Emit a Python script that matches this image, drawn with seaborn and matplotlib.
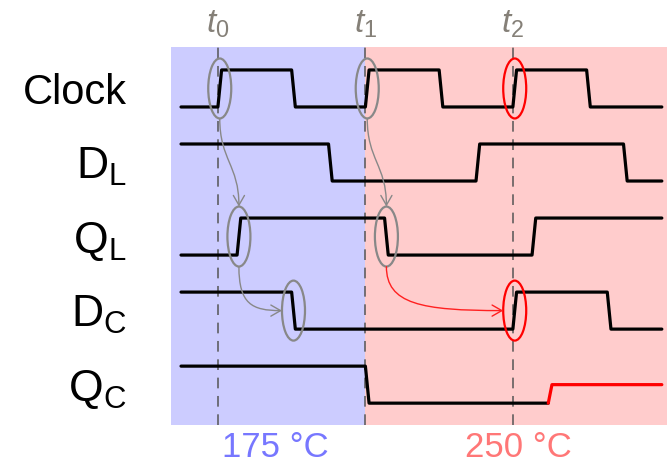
import numpy as np
import pandas as pd
import matplotlib
matplotlib.use('Agg')
import matplotlib.pyplot as plt
import seaborn as sns
from matplotlib.patches import Ellipse, FancyArrowPatch
from matplotlib.path import Path

# signal rows, top to bottom
row_labels = ['Clock', r'$\mathrm{D_L}$', r'$\mathrm{Q_L}$', r'$\mathrm{D_C}$', r'$\mathrm{Q_C}$']
start_levels = [0, 1, 0, 1, 1]

# edge times (time units, clock period = 10)
clock_edges = [2.5, 7.5, 12.5, 17.5, 22.5, 27.5]
dl_edges = [10.0, 20.0, 30.0]
ql_edges = [3.8, 13.8, 23.8]
dc_edges = [7.5, 22.5, 28.9]
qc_edges = [12.5]
qc_hot_rise = 24.9     # red, only half-way up
qc_hot_level = 0.5

t_start = 0.0
t_end = 32.6
ramp = 0.25

marker_times = [2.5, 12.5, 22.5]
marker_labels = [r'$t_0$', r'$t_1$', r'$t_2$']
t_hot = 12.5
temp_labels = ['175 °C', '250 °C']
temp_pos = [6.4, 22.9]

# highlighted edges: time, row, colour
ell_times = [2.5, 12.5, 22.5, 3.8, 13.8, 7.5, 22.5]
ell_rows = [0, 0, 0, 2, 2, 3, 3]
ell_colors = ['#888888', '#888888', 'red', '#888888', '#888888', '#888888', 'red']
# arrows between highlighted edges: source, target, how it enters
arrow_src = [0, 1, 3, 4]
arrow_dst = [3, 4, 5, 6]
arrow_kind = ['down', 'down', 'right', 'right']
arrow_colors = ['#888888', '#888888', '#888888', '#ff2020']


def waveform(level0, edges, stop):
    xs, ys, lvl = [t_start], [level0], level0
    for e in edges:
        xs += [e, e + ramp]
        ys += [lvl, 1 - lvl]
        lvl = 1 - lvl
    xs.append(stop)
    ys.append(lvl)
    return xs, ys


all_edges = [clock_edges, dl_edges, ql_edges, dc_edges, qc_edges]
rows = []
for i, (lv, ed) in enumerate(zip(start_levels, all_edges)):
    stop = qc_hot_rise if i == 4 else t_end
    xs, ys = waveform(lv, ed, stop)
    for x, y in zip(xs, ys):
        rows.append({'signal': i, 'time': x, 'y': y - 2 * i})
df = pd.DataFrame(rows)

hot = pd.DataFrame({'time': [qc_hot_rise, qc_hot_rise + ramp, t_end],
                    'y': [0 - 8, qc_hot_level - 8, qc_hot_level - 8]})

sns.set_style('white')
plt.rcParams['font.family'] = ['Liberation Sans', 'DejaVu Sans']
plt.rcParams['mathtext.fontset'] = 'custom'
plt.rcParams['mathtext.rm'] = 'Liberation Sans'
plt.rcParams['mathtext.it'] = 'Liberation Sans:italic'

fig = plt.figure(figsize=(6.67, 4.65), dpi=100)
ax = fig.add_axes([171 / 667, 1 - 425 / 465, 496 / 667, 378 / 465])
xlim = (-0.68, 32.95)
ylim = (-8.59, 1.62)

ax.axvspan(xlim[0], t_hot, color='#ccccff', lw=0, zorder=0)
ax.axvspan(t_hot, xlim[1], color='#ffcccc', lw=0, zorder=0)
for t in marker_times:
    ax.axvline(t, color='#555555', lw=1.1, dashes=(7, 5), zorder=1)

sns.lineplot(data=df, x='time', y='y', units='signal', estimator=None, sort=False,
             color='black', linewidth=2.3, ax=ax, legend=False, zorder=3)
sns.lineplot(data=hot, x='time', y='y', estimator=None, sort=False,
             color='red', linewidth=2.3, ax=ax, legend=False, zorder=3)

ew, eh = 1.56, 1.62
centers = []
for t, r, c in zip(ell_times, ell_rows, ell_colors):
    cx, cy = t + ramp / 2, 0.5 - 2 * r
    centers.append((cx, cy))
    ax.add_patch(Ellipse((cx, cy), ew, eh, fill=False, ec=c, lw=1.6, zorder=4))

for s, d, k, c in zip(arrow_src, arrow_dst, arrow_kind, arrow_colors):
    x0, y0 = centers[s][0], centers[s][1] - eh / 2
    if k == 'down':
        x3, y3 = centers[d][0], centers[d][1] + eh / 2
        p1 = (x0, y0 + 0.47 * (y3 - y0))
        p2 = (x3, y3 - 0.47 * (y3 - y0))
    else:
        x3, y3 = centers[d][0] - ew / 2, centers[d][1]
        p1 = (x0, y0 + 0.85 * (y3 - y0))
        p2 = (x0 + 0.3 * (x3 - x0), y3)
    path = Path([(x0, y0), p1, p2, (x3, y3)],
                [Path.MOVETO, Path.CURVE4, Path.CURVE4, Path.CURVE4])
    ax.add_patch(FancyArrowPatch(path=path, arrowstyle='->,head_length=0.7,head_width=0.4',
                                 mutation_scale=10, color=c, lw=1.0, zorder=4))

ax.set_xlim(*xlim)
ax.set_ylim(*ylim)
ax.set_xlabel('')
ax.set_ylabel('')
for sp in ax.spines.values():
    sp.set_visible(False)

ax.set_yticks([0.5 - 2 * i for i in range(len(row_labels))])
ax.set_yticklabels(row_labels)
ax.tick_params(axis='y', length=0, pad=32, labelsize=32, labelcolor='black')
ax.get_yticklabels()[0].set_fontsize(30)

ax.xaxis.tick_top()
ax.set_xticks(marker_times)
ax.set_xticklabels(marker_labels)
ax.tick_params(axis='x', length=0, pad=5, labelsize=24, labelcolor='#858078')

for lab, pos, col in zip(temp_labels, temp_pos, ['#7777ff', '#ff7777']):
    ax.annotate(lab, xy=(pos, 0), xycoords=('data', 'axes fraction'),
                xytext=(0, -28.0), textcoords='offset points',
                ha='center', va='bottom', fontsize=25, color=col)

fig.savefig('out.png', dpi=100)
